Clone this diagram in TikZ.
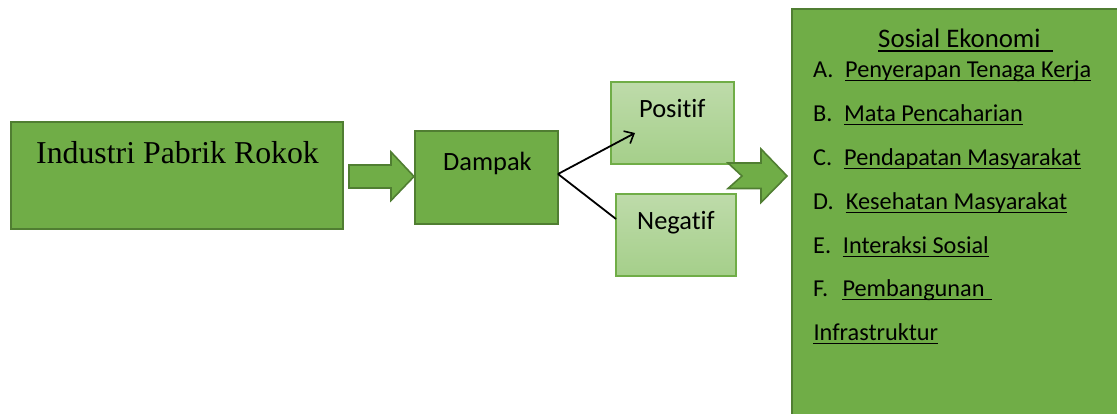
\documentclass[tikz,border=0pt]{standalone}
\usepackage{fontspec}
\setmainfont[Ligatures={NoCommon}]{Carlito}
\newfontfamily\timesf{Liberation Serif}
\usetikzlibrary{arrows.meta}
\definecolor{gmid}{HTML}{70AD47}
\definecolor{gdark}{HTML}{507E32}
\definecolor{glttop}{HTML}{BEDBAA}
\definecolor{gltbot}{HTML}{A5CF8A}
\tikzset{
  mainbox/.style={draw=gdark, fill=gmid, line width=2.2pt},
  lightbox/.style={draw=gmid, top color=glttop, bottom color=gltbot, line width=2pt},
  blockarrow/.style={draw=gdark, fill=gmid, line width=1.6pt, line join=miter},
  txt/.style={inner sep=0pt, anchor=base west, text=black},
  uline/.style={line width=1.4pt, black},
  conn/.style={line width=1.8pt, black},
}
\begin{document}
\begin{tikzpicture}[x=1pt,y=-1pt]
\useasboundingbox (0,0) rectangle (1117,414);
\clip (0,0) rectangle (1117,414);
\fill[white] (0,0) rectangle (1117,414);

% boxes
\path[mainbox] (10.7,121.7) rectangle (342.7,229);
\node[inner sep=0pt, minimum width=332pt, minimum height=107.3pt] (ind) at (176.7,175.35) {};
\path[mainbox] (415,131) rectangle (558,224);
\node[inner sep=0pt, minimum width=143pt, minimum height=93pt] (dam) at (486.5,177.5) {};
\path[lightbox] (611,82) rectangle (734,164);
\node[inner sep=0pt, minimum width=123pt, minimum height=82pt] (pos) at (672.5,123) {};
\path[lightbox] (616,194) rectangle (736,276);
\node[inner sep=0pt, minimum width=120pt, minimum height=82pt] (neg) at (676,235) {};
\path[mainbox] (792,9.3) rectangle (1135,440);
\node[inner sep=0pt, minimum width=343pt, minimum height=430pt] (sos) at (963.5,224.65) {};

% block arrow 1
\path[blockarrow] (349,165) -- (391,165) -- (391,152) -- (414,176.5) -- (391,200.5) -- (391,188) -- (349,188) -- cycle;

% connectors
\coordinate (dout) at (558,174);
\coordinate (pend) at (635,133);
\coordinate (nend) at (616,219);
\draw[conn, -{Straight Barb[length=8pt,width=14pt,line width=1.6pt]}] (dout) -- (pend);
\draw[conn] (dout) -- (nend);

% block arrow 2 (notched)
\path[blockarrow] (728,163) -- (761,163) -- (761,149) -- (787,176) -- (761,202.5) -- (761,188.5) -- (728,188.5) -- (742,176) -- cycle;

% texts
\node[txt, font=\timesf\fontsize{31.8}{36}\selectfont] (tind) at (36,163.5) {Industri Pabrik Rokok};
\node[txt, font=\fontsize{26.4}{30}\selectfont] (tdam) at (443,170.7) {Dampak};
\node[txt, font=\fontsize{26.4}{30}\selectfont] (tpos) at (639,118) {Positif};
\node[txt, font=\fontsize{26.4}{30}\selectfont] (tneg) at (637,230) {Negatif};

\node[txt, font=\fontsize{26.8}{30}\selectfont] (tsos) at (878,47.6) {Sosial Ekonomi\kern0.45em};
\draw[uline] ([yshift=-3.5pt]tsos.base west) -- ([yshift=-3.5pt]tsos.base east);

\tikzset{item/.style={txt, font=\fontsize{24.3}{28}\selectfont}}
\node[item] (la) at (813,77.3) {A.};
\node[item] (ia) at (845,77.3) {Penyerapan Tenaga Kerja};
\node[item] (lb) at (813,121.7) {B.};
\node[item] (ib) at (844,121.7) {Mata Pencaharian};
\node[item] (lc) at (813,165.7) {C.};
\node[item] (ic) at (844,165.7) {Pendapatan Masyarakat};
\node[item] (ld) at (813,209.3) {D.};
\node[item] (id) at (845.7,209.3) {Kesehatan Masyarakat};
\node[item] (le) at (813,253.3) {E.};
\node[item] (ie) at (842.7,253.3) {Interaksi Sosial};
\node[item] (lf) at (813,296.7) {F.};
\node[item] (iff) at (842.3,296.7) {Pembangunan\kern0.3em};
\node[item] (ig) at (813.3,340.7) {Infrastruktur};
\foreach \n in {ia,ib,ic,id,ie,iff,ig}{
  \draw[uline] ([yshift=-3pt]\n.base west) -- ([yshift=-3pt]\n.base east);
}
\end{tikzpicture}
\end{document}
